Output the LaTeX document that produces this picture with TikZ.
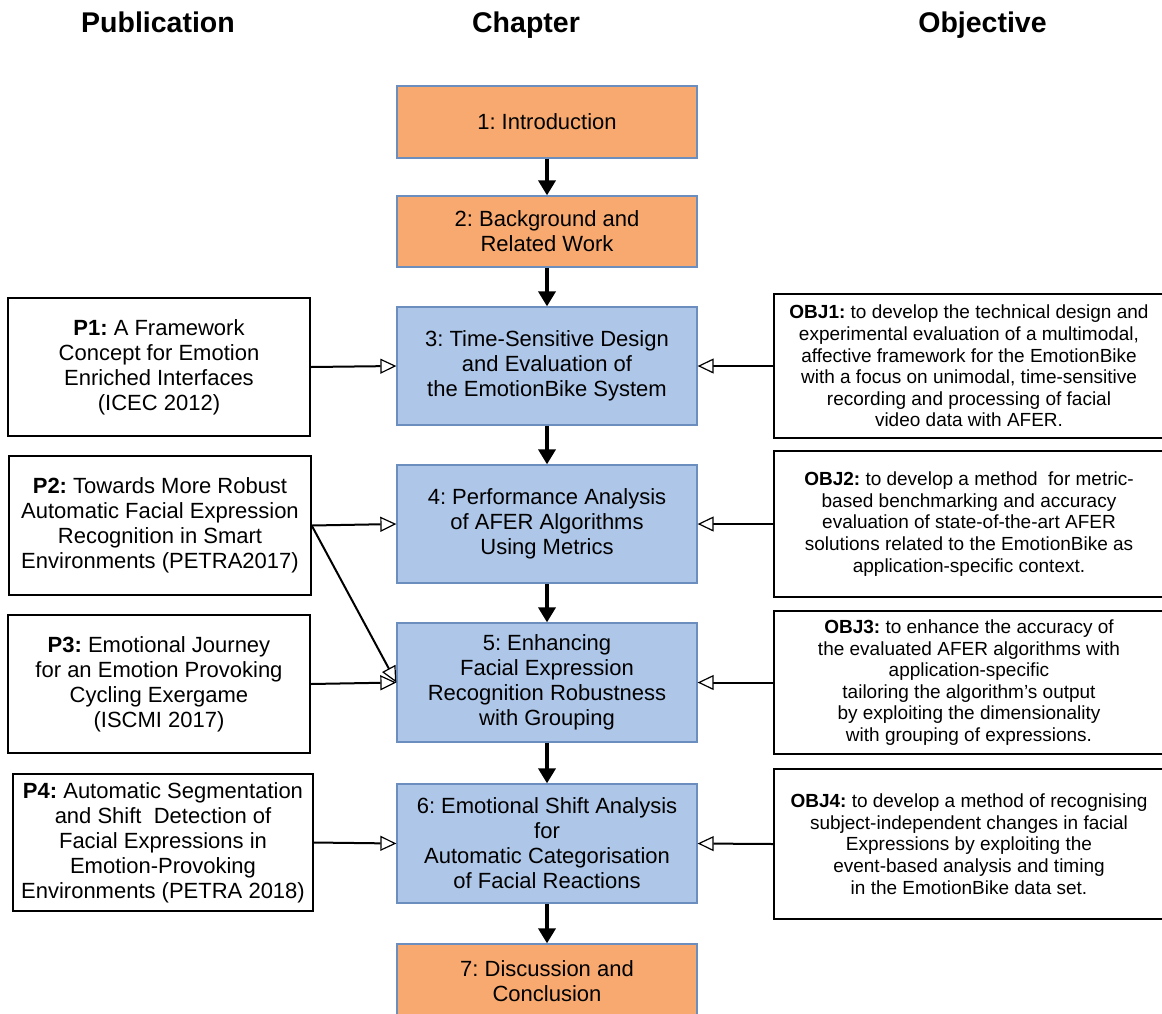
\documentclass[tikz,border=0pt]{standalone}
\usepackage{fontspec}
\setmainfont{Liberation Sans}
\usetikzlibrary{arrows.meta}
\frenchspacing

\definecolor{chapblue}{HTML}{AEC6E8}
\definecolor{chaporange}{HTML}{F7A970}
\definecolor{chapedge}{HTML}{6C8EBF}

\tikzset{
  header/.style={font=\fontsize{28.5}{32}\selectfont\bfseries, anchor=base},
  chapbox/.style={draw=chapedge, line width=1.3pt, minimum width=300pt, inner sep=0pt,
    align=center, font=\fontsize{22}{25}\selectfont},
  bluebox/.style={chapbox, fill=chapblue},
  orangebox/.style={chapbox, fill=chaporange},
  pubbox/.style={draw=black, line width=1.4pt, fill=white, inner sep=0pt,
    align=center, font=\fontsize{22}{25}\selectfont},
  objbox/.style={draw=black, line width=1.4pt, fill=white, inner sep=0pt,
    minimum width=390pt, align=center, font=\fontsize{19}{21.6}\selectfont},
  flow/.style={line width=3.6pt, -{Triangle[width=17pt,length=15pt]}},
  feed/.style={line width=2pt, -{Triangle[open,width=15pt,length=16pt,line width=1.2pt,fill=white]}},
}

\begin{document}
\begin{tikzpicture}[x=1pt, y=-1pt]
  \useasboundingbox[fill=white] (0,0) rectangle (1162,1013);

  % column headings
  \node[header] (hpub) at (158,32) {Publication};
  \node[header] (hchap) at (526,32) {Chapter};
  \node[header] (hobj) at (982.5,32) {Objective};

  % chapters
  \node[orangebox, minimum height=72pt] (c1) at (547,122) {1: Introduction};
  \node[orangebox, minimum height=71pt] (c2) at (547,231.5) {2: Background and\\Related Work};
  \node[bluebox, minimum height=118pt] (c3) at (547,366) {3: Time-Sensitive Design\\and Evaluation of\\the EmotionBike System};
  \node[bluebox, minimum height=118pt] (c4) at (547,524) {4: Performance Analysis\\of AFER Algorithms\\Using Metrics};
  \node[bluebox, minimum height=119pt] (c5) at (547,682.5) {5: Enhancing\\Facial Expression\\Recognition Robustness\\with Grouping};
  \node[bluebox, minimum height=119pt] (c6) at (547,843.5) {6: Emotional Shift Analysis\\for\\Automatic Categorisation\\of Facial Reactions};
  \node[orangebox, minimum height=75pt] (c7) at (547,981.5) {7: Discussion and\\Conclusion};

  % publications
  \node[pubbox, minimum width=302pt, minimum height=138pt] (p1) at (159,367)
    {\textbf{P1:} A Framework\\Concept for Emotion\\Enriched Interfaces\\(ICEC 2012)};
  \node[pubbox, minimum width=302pt, minimum height=139pt] (p2) at (160,525.5)
    {\textbf{P2:} Towards More Robust\\Automatic Facial Expression\\Recognition in Smart\\Environments (PETRA2017)};
  \node[pubbox, minimum width=302pt, minimum height=138pt] (p3) at (159,684)
    {\textbf{P3:} Emotional Journey\\for an Emotion Provoking\\Cycling Exergame\\(ISCMI 2017)};
  \node[pubbox, minimum width=300pt, minimum height=137pt] (p4) at (163,842.5)
    {\textbf{P4:} Automatic Segmentation\\and Shift\ \ Detection of\\Facial Expressions in\\Emotion-Provoking\\Environments (PETRA 2018)};

  % objectives
  \node[objbox, minimum height=144pt] (o1) at (969,366)
    {\textbf{OBJ1:} to develop the technical design and\\experimental evaluation of a multimodal,\\affective framework for the EmotionBike\\with a focus on unimodal, time-sensitive\\recording and processing of facial\\video data with AFER.};
  \node[objbox, minimum height=146pt] (o2) at (969,524)
    {\textbf{OBJ2:} to develop a method\ \ for metric-\\based benchmarking and accuracy\\evaluation of state-of-the-art AFER\\solutions related to the EmotionBike as\\application-specific context.};
  \node[objbox, minimum height=143pt] (o3) at (969,682.5)
    {\textbf{OBJ3:} to enhance the accuracy of\\the evaluated AFER algorithms with\\application-specific\\tailoring the algorithm's output\\by exploiting the dimensionality\\with grouping of expressions.};
  \node[objbox, minimum height=150pt] (o4) at (969,844)
    {\textbf{OBJ4:} to develop a method of recognising\\subject-independent changes in facial\\Expressions by exploiting the\\event-based analysis and timing\\in the EmotionBike data set.};

  % chapter sequence
  \draw[flow] (c1) -- (c2);
  \draw[flow] (c2) -- (c3);
  \draw[flow] (c3) -- (c4);
  \draw[flow] (c4) -- (c5);
  \draw[flow] (c5) -- (c6);
  \draw[flow] (c6) -- (c7);

  % publications feeding chapters
  \draw[feed] (p1.east) -- (c3.west);
  \draw[feed] (p2.east) -- (c4.west);
  \draw[feed] (p2.east) -- (c5.west);
  \draw[feed] (p3.east) -- (c5.west);
  \draw[feed] (p4.east) -- (c6.west);

  % objectives feeding chapters
  \draw[feed] (o1.west) -- (c3.east);
  \draw[feed] (o2.west) -- (c4.east);
  \draw[feed] (o3.west) -- (c5.east);
  \draw[feed] (o4.west) -- (c6.east);
\end{tikzpicture}
\end{document}
